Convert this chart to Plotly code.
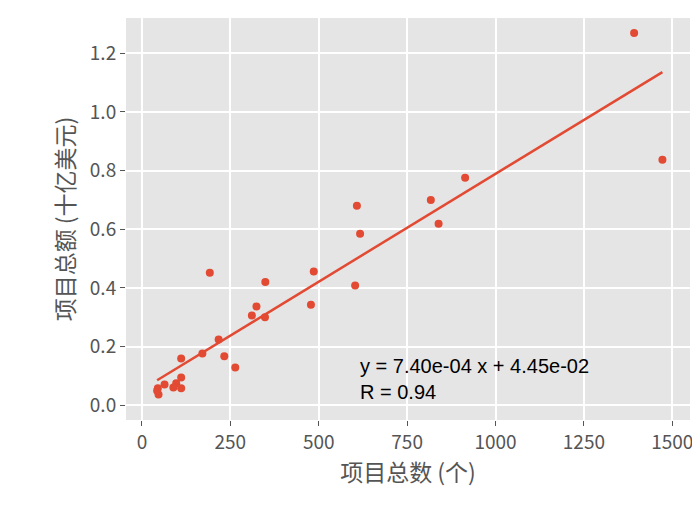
import numpy as np
import plotly.graph_objects as go

x_count = [192, 349, 486, 603, 478, 324, 311, 348, 217, 171, 111, 233, 264, 111, 97, 89, 111, 64, 45, 47, 43,
           608, 617, 817, 914, 839, 1392, 1472]
y_amount = [0.452, 0.42, 0.456, 0.408, 0.343, 0.337, 0.306, 0.30, 0.224, 0.177, 0.16, 0.167, 0.129, 0.095, 0.075,
            0.061, 0.058, 0.071, 0.058, 0.037, 0.05,
            0.68, 0.585, 0.70, 0.776, 0.619, 1.269, 0.837]

slope, intercept = np.polyfit(x_count, y_amount, 1)
xs = np.array([min(x_count), max(x_count)])
red = "#E24A33"
font = "Noto Sans CJK SC, Arial, sans-serif"

fig = go.Figure()
fig.add_trace(go.Scatter(x=x_count, y=y_amount, mode="markers",
                         marker=dict(color=red, size=8), showlegend=False))
fig.add_trace(go.Scatter(x=xs, y=slope * xs + intercept, mode="lines",
                         line=dict(color=red, width=2.5), showlegend=False))
fig.add_annotation(x=610, y=0.0, xref="x", yref="y", xanchor="left", yanchor="bottom",
                   text="y = 7.40e-04 x + 4.45e-02<br>R = 0.94", showarrow=False, align="left",
                   font=dict(size=20, color="black", family="Liberation Sans, Arial"))
fig.update_layout(
    width=700, height=505, paper_bgcolor="white", plot_bgcolor="#E5E5E5",
    margin=dict(l=118, r=18, t=10, b=93),
    font=dict(family=font, size=19, color="#555555"),
    xaxis=dict(title=dict(text="项目总数 (个)", font=dict(size=23, color="#555555"), standoff=8),
               range=[-45, 1550], tickvals=[0, 250, 500, 750, 1000, 1250, 1500],
               gridcolor="white", gridwidth=1.5, zeroline=False, ticks="outside",
               ticklen=5, tickcolor="#555555"),
    yaxis=dict(title=dict(text="项目总额 (十亿美元)", font=dict(size=23, color="#555555"), standoff=8),
               range=[-0.05, 1.32], tickvals=[0, 0.2, 0.4, 0.6, 0.8, 1.0, 1.2],
               tickformat=".1f", gridcolor="white", gridwidth=1.5, zeroline=False,
               ticks="outside", ticklen=5, tickcolor="#555555"),
)
fig.write_html("out.html")
